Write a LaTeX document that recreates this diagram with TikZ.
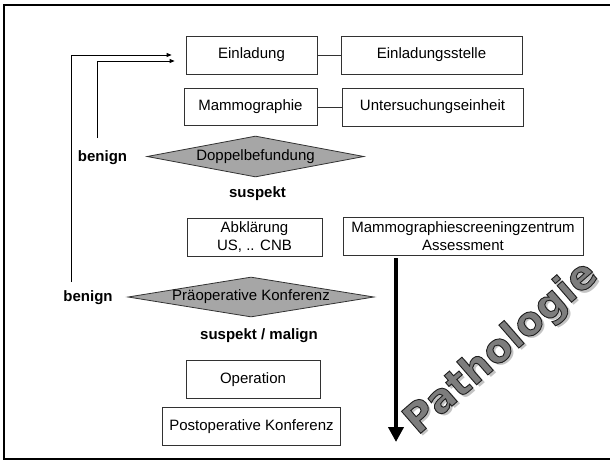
\documentclass[tikz,border=0pt]{standalone}
\usepackage{fontspec}
\setmainfont{Liberation Sans}
\newfontfamily\pathofont{DejaVu Sans}
\usepackage{xcolor}
\usepackage{tikz}
\usetikzlibrary{shapes.geometric, arrows.meta, calc}
\definecolor{boxline}{RGB}{50, 50, 50}
\definecolor{decisioncolor}{RGB}{166, 166, 166}
\definecolor{pathofill}{RGB}{125, 125, 125}
\definecolor{pathoshadow}{RGB}{195, 195, 195}

% outlined letters (fill + stroke) with a soft shadow
\newcommand{\pathotext}[1]{\rlap{\hspace{0.5pt}\raisebox{-4pt}{\color{pathoshadow}#1}}\special{pdf:literal direct 0.12 0.12 0.12 RG 0.9 w 2 Tr}#1\special{pdf:literal direct 0 Tr}}

\begin{document}
\begin{tikzpicture}[x=1pt, y=-1pt,
        every node/.style={align=center, font=\fontsize{15}{18}\selectfont},
        box/.style={draw=boxline, line width=0.8pt, minimum height=38pt, inner sep=2pt},
        decision/.style={diamond, draw=boxline, fill=decisioncolor, line width=0.8pt, inner sep=0pt},
        verdict/.style={font=\fontsize{15}{18}\selectfont\bfseries},
        link/.style={draw=boxline, line width=1pt},
        back/.style={-{Triangle[length=5pt, width=4pt]}, line width=0.8pt},
        bigarrow/.style={-{Triangle[length=15pt, width=15pt]}, line width=4pt},
        patho/.style={rotate=41, text=pathofill, font=\pathofont\fontsize{40}{40}\selectfont\bfseries}]
        \useasboundingbox (0, 0) rectangle (610, 461);

        % Frame
        \draw[line width=2.5pt] (612, 5) -- (4, 5) -- (4, 459) -- (612, 459);

        % Invitation
        \node[box, minimum width=131pt] (einladung) at (251.5, 55) {Einladung};
        \node[box, minimum width=181pt] (stelle) at (431.5, 55) {Einladungsstelle};

        % Screening
        \node[box, minimum width=133pt, minimum height=37pt] (mammo) at (250.5, 107) {Mammographie};
        \node[box, minimum width=181pt] (einheit) at (432.5, 107) {Untersuchungseinheit};

        % First reading
        \node[decision, minimum width=217pt, minimum height=41pt] (doppel) at (255.5, 156.5) {\makebox[0pt]{\raisebox{2pt}{Doppelbefundung}}};
        \node[verdict] (benign1) at (102.5, 158) {benign};
        \node[verdict] (suspekt1) at (257.5, 194) {suspekt};

        % Assessment
        \node[box, minimum width=135pt] (abklaerung) at (254.5, 237) {Abklärung\\US, .. CNB};
        \node[box, minimum width=240pt] (zentrum) at (463, 236) {Mammographiescreeningzentrum\\Assessment};

        % Conference
        \node[decision, minimum width=246pt, minimum height=40pt] (praeop) at (251, 297) {\makebox[0pt]{\raisebox{1pt}{Präoperative Konferenz}}};
        \node[verdict] (benign2) at (88, 298) {benign};
        \node[verdict] (suspekt2) at (259, 336) {suspekt / malign};

        % Treatment
        \node[box, minimum width=134pt] (operation) at (253, 379.5) {Operation};
        \node[box, minimum width=178pt] (postop) at (251.5, 426.5) {Postoperative Konferenz};

        % Pathology
        \node[patho] (patho) at (503, 350) {\pathotext{Pathologie}};

        % Connections
        \draw[link] (einladung) -- (stelle);
        \draw[link] (mammo) -- (einheit);

        \coordinate (back1) at (97, 138);
        \coordinate (back2) at (71, 282);
        \draw[back, shorten >=11pt] (back1) |- ($(einladung.west)+(0, 6)$);
        \draw[back, shorten >=14pt] (back2) |- (einladung.west);

        \coordinate (patho-end) at (396, 442);
        \draw[bigarrow, shorten <=3pt] (zentrum.south -| patho-end) -- (patho-end);

    \end{tikzpicture}
\end{document}
